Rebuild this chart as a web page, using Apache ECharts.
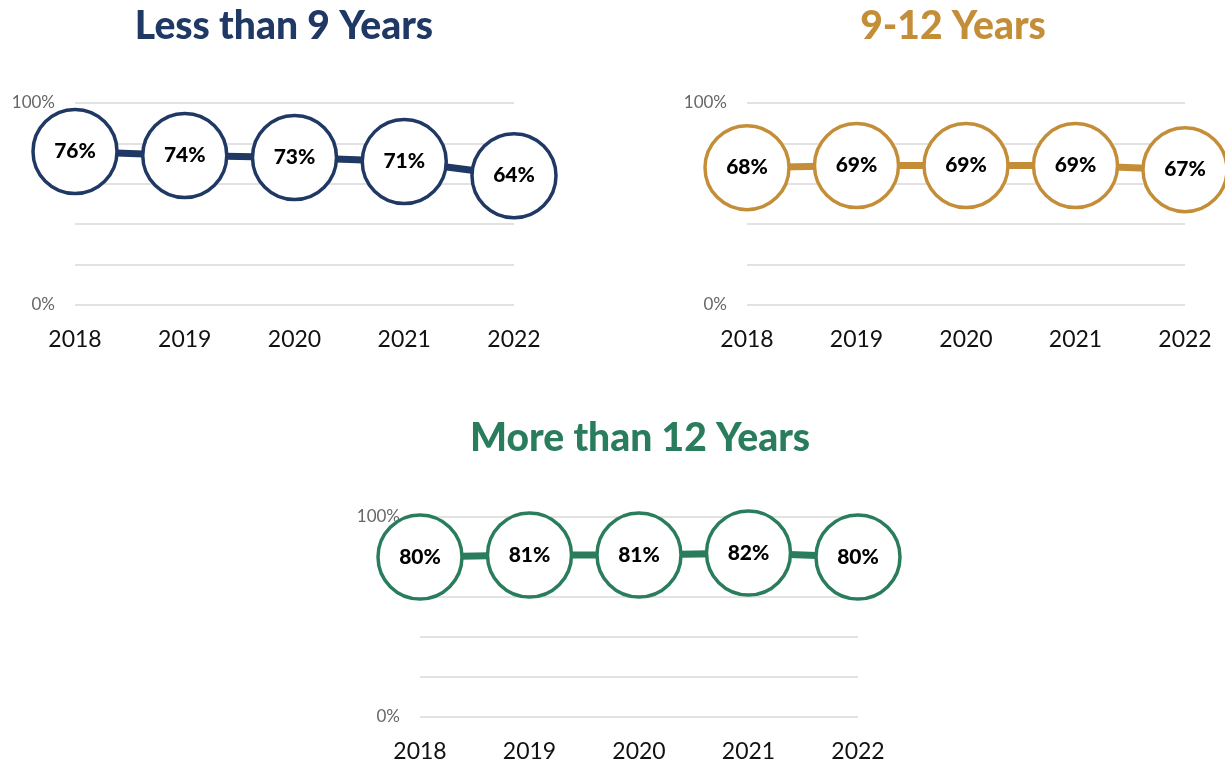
<!DOCTYPE html>
<html>
<head>
<meta charset="utf-8">
<script src="https://cdn.jsdelivr.net/npm/echarts@6/dist/echarts.min.js"></script>
<style>
  html, body { margin: 0; padding: 0; background: #fff; }
  #chart { width: 1225px; height: 763px; }
</style>
</head>
<body>
<div id="chart"></div>
<script>
var years = ['2018', '2019', '2020', '2021', '2022'];
var lessThan9 = [76, 74, 73, 71, 64];
var nineTo12 = [68, 69, 69, 69, 67];
var moreThan12 = [80, 81, 81, 82, 80];
var titles = ['Less than 9 Years', '9-12 Years', 'More than 12 Years'];
var colors = ['#1f3864', '#c48e38', '#2a7d5c'];

var FONT = 'Lato';

// one panel per grid
var panels = [
    { data: lessThan9, grid: { left: 75, top: 103, width: 439, height: 202 }, titleX: 279, titleY: 2 },
    { data: nineTo12, grid: { left: 747, top: 103, width: 438, height: 202 }, titleX: 948, titleY: 2 },
    { data: moreThan12, grid: { left: 420, top: 517, width: 438, height: 200 }, titleX: 635, titleY: 414 }
];

var chart = echarts.init(document.getElementById('chart'));

var option = {
    animation: false,
    textStyle: { fontFamily: FONT },
    title: [],
    grid: [],
    xAxis: [],
    yAxis: [],
    series: []
};

panels.forEach(function(p, i) {
    option.title.push({
        text: titles[i],
        left: p.titleX,
        top: p.titleY,
        textAlign: 'center',
        textStyle: { fontFamily: FONT, fontSize: 39, fontWeight: 900, color: colors[i] }
    });
    option.grid.push(p.grid);
    option.xAxis.push({
        type: 'category',
        gridIndex: i,
        data: years,
        boundaryGap: false,
        axisLine: { show: false },
        axisTick: { show: false },
        axisLabel: { fontFamily: FONT, fontSize: 23, color: '#111', margin: 23 }
    });
    option.yAxis.push({
        type: 'value',
        gridIndex: i,
        min: 0,
        max: 100,
        interval: 20,
        axisLine: { show: false },
        axisTick: { show: false },
        splitLine: { lineStyle: { color: '#d9d9d9', width: 1.5 } },
        axisLabel: {
            fontFamily: FONT,
            fontSize: 17,
            color: '#666',
            margin: 20,
            formatter: function(v) { return (v === 0 || v === 100) ? v + '%' : ''; }
        }
    });
    option.series.push({
        type: 'line',
        xAxisIndex: i,
        yAxisIndex: i,
        data: p.data,
        symbol: 'circle',
        symbolSize: 84,
        lineStyle: { color: colors[i], width: 7 },
        itemStyle: { color: '#fff', borderColor: colors[i], borderWidth: 3.5 },
        label: {
            show: true,
            position: 'inside',
            formatter: '{c}%',
            fontFamily: FONT,
            fontSize: 21,
            fontWeight: 900,
            color: '#000'
        },
        z: 3
    });
});

chart.setOption(option);
</script>
</body>
</html>
